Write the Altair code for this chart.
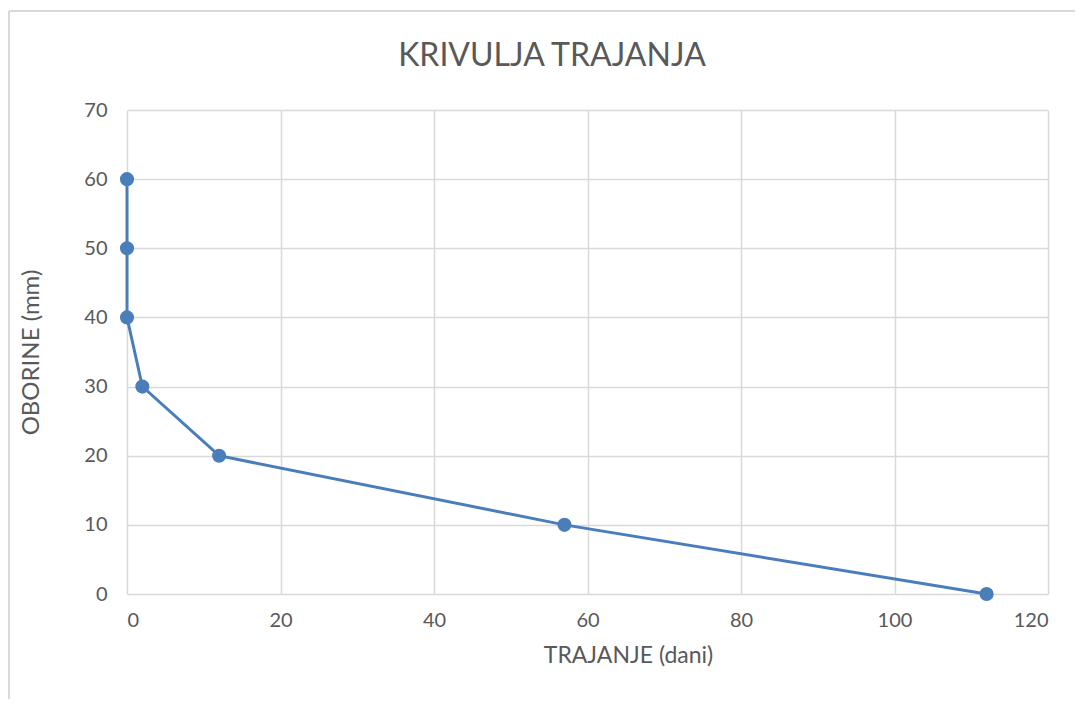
import altair as alt
import pandas as pd

trajanje = [0, 0, 0, 2, 12, 57, 112]
oborine = [60, 50, 40, 30, 20, 10, 0]
x_ticks = [0, 20, 40, 60, 80, 100, 120]
y_ticks = [0, 10, 20, 30, 40, 50, 60, 70]
title_text = ["KRIVULJA TRAJANJA"]

df = pd.DataFrame({"trajanje": trajanje, "oborine": oborine, "order": list(range(len(trajanje)))})
df_title = pd.DataFrame({"t": title_text})

FONT = "Lato"
BLUE = "#4a7ebb"
GREY = "#595959"

x = alt.X("trajanje:Q", scale=alt.Scale(domain=[0, 120], nice=False),
          axis=alt.Axis(values=x_ticks, title="TRAJANJE (dani)", titlePadding=14,
                        labelPadding=16, titleX=501, titleFontSize=23))
y = alt.Y("oborine:Q", scale=alt.Scale(domain=[0, 70], nice=False),
          axis=alt.Axis(values=y_ticks, title="OBORINE (mm)", titlePadding=40,
                        labelPadding=20, titleFontSize=24))

line = alt.Chart(df).mark_line(color=BLUE, strokeWidth=3).encode(x=x, y=y, order="order:Q")
pts = alt.Chart(df).mark_point(filled=True, color=BLUE, size=200, opacity=1).encode(x=x, y=y)

frame_left = alt.Chart(df).mark_rule(color="#d9d9d9", strokeWidth=2, clip=False).encode(
    x=alt.value(-118), y=alt.value(-99), y2=alt.value(620))
frame_top = alt.Chart(df).mark_rule(color="#d9d9d9", strokeWidth=2, clip=False).encode(
    x=alt.value(-118), x2=alt.value(960), y=alt.value(-99))

title = alt.Chart(df_title).mark_text(
    font=FONT, fontSize=32, color=GREY, align="center", baseline="middle", clip=False
).encode(x=alt.value(425), y=alt.value(-54), text="t:N")

chart = alt.layer(frame_left, frame_top, line, pts, title).properties(
    width=921, height=484,
    autosize=alt.AutoSizeParams(type="none"),
    padding={"left": 119, "top": 102, "right": 27, "bottom": 105},
).configure_view(stroke=None).configure_axis(
    domain=False, ticks=False, grid=True, gridColor="#d9d9d9", gridWidth=1.5,
    labelFont=FONT, labelFontSize=20, labelColor=GREY,
    titleFont=FONT, titleFontWeight="normal", titleColor=GREY,
)

chart.save("out.html", embed_options={"renderer": "svg", "actions": False})
